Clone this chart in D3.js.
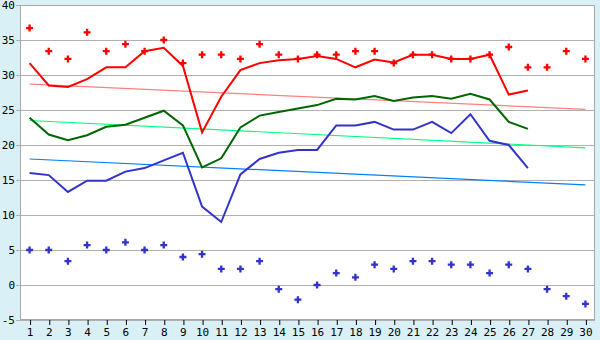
<!DOCTYPE html>
<html>
<head>
<meta charset="utf-8">
<script src="https://cdn.jsdelivr.net/npm/d3@7"></script>
<style>
  body { margin: 0; background: #d9f0f7; }
  text { font-family: "DejaVu Sans Mono", monospace; font-size: 11px; fill: #000; }
</style>
</head>
<body>
<script>
// days of the month
const days = d3.range(1, 31);

// record highs / lows (dots)
const recordHigh = [36.7, 33.4, 32.3, 36.1, 33.4, 34.4, 33.4, 35.0, 31.7, 32.9,
  32.9, 32.3, 34.4, 32.9, 32.3, 32.9, 32.9, 33.4, 33.4, 31.7,
  32.9, 32.9, 32.3, 32.3, 32.9, 34.0, 31.1, 31.1, 33.4, 32.3];
const recordLow = [5.0, 5.0, 3.4, 5.7, 5.0, 6.1, 5.0, 5.7, 4.0, 4.4,
  2.3, 2.3, 3.4, -0.6, -2.1, 0.0, 1.7, 1.1, 2.9, 2.3,
  3.4, 3.4, 2.9, 2.9, 1.7, 2.9, 2.3, -0.6, -1.6, -2.7];

// this month's max / mean / min (lines, 27 days)
const maxTemp = [31.7, 28.5, 28.3, 29.4, 31.1, 31.1, 33.4, 33.9, 31.3, 21.8,
  26.9, 30.7, 31.7, 32.1, 32.3, 32.7, 32.3, 31.1, 32.2, 31.8,
  32.9, 32.9, 32.3, 32.3, 32.9, 27.2, 27.8];
const meanTemp = [23.9, 21.5, 20.7, 21.4, 22.6, 22.9, 23.9, 24.9, 22.8, 16.8,
  18.1, 22.5, 24.2, 24.7, 25.2, 25.7, 26.6, 26.5, 27.0, 26.3,
  26.8, 27.0, 26.6, 27.3, 26.5, 23.3, 22.3];
const minTemp = [16.0, 15.7, 13.3, 14.9, 14.9, 16.2, 16.7, 17.8, 18.9, 11.2,
  9.0, 15.8, 18.0, 18.9, 19.3, 19.3, 22.8, 22.8, 23.3, 22.2,
  22.2, 23.3, 21.7, 24.4, 20.6, 20.0, 16.7];

// normal trends (start at day 1, end at day 30)
const normalMax = [28.7, 25.1];
const normalMean = [23.5, 19.6];
const normalMin = [18.0, 14.3];

const yTicks = d3.range(-5, 41, 5);

const width = 600, height = 340;
const margin = { top: 5, right: 5, bottom: 20, left: 20 };

const svg = d3.select("body").append("svg")
  .attr("width", width)
  .attr("height", height);

const x = d3.scalePoint()
  .domain(days)
  .range([margin.left, width - margin.right])
  .padding(0.5);

const y = d3.scaleLinear()
  .domain([-5, 40])
  .range([height - margin.bottom, margin.top]);

// plot background
svg.append("rect")
  .attr("x", margin.left)
  .attr("y", margin.top)
  .attr("width", width - margin.left - margin.right)
  .attr("height", height - margin.top - margin.bottom)
  .attr("fill", "#fff");

// gridlines
svg.append("g")
  .selectAll("line")
  .data(yTicks)
  .join("line")
  .attr("x1", margin.left - 4)
  .attr("x2", width - margin.right)
  .attr("y1", d => Math.round(y(d)) + 0.5)
  .attr("y2", d => Math.round(y(d)) + 0.5)
  .attr("stroke", "#b0b0b0");

// frame
svg.append("rect")
  .attr("x", margin.left + 0.5)
  .attr("y", margin.top + 0.5)
  .attr("width", width - margin.left - margin.right - 1)
  .attr("height", height - margin.top - margin.bottom - 1)
  .attr("fill", "none")
  .attr("stroke", "#a8a8a8");

// y labels
svg.append("g")
  .selectAll("text")
  .data(yTicks)
  .join("text")
  .attr("x", margin.left - 5)
  .attr("y", d => y(d))
  .attr("dy", "0.35em")
  .attr("text-anchor", "end")
  .text(d => d);

// x axis
const xAxis = d3.axisBottom(x).tickSize(5).tickPadding(3);
svg.append("g")
  .attr("transform", `translate(0,${height - margin.bottom})`)
  .call(xAxis)
  .call(g => g.select(".domain").remove())
  .call(g => g.selectAll("line").attr("stroke", "#000").attr("transform", "translate(0.5,0)"))
  .call(g => g.selectAll("text").style("font-family", "DejaVu Sans Mono").style("font-size", "11px"));

// trend lines
const trends = [
  { vals: normalMax, color: "#ff8080" },
  { vals: normalMean, color: "#00ff80" },
  { vals: normalMin, color: "#0080ff" }
];
svg.append("g")
  .selectAll("line")
  .data(trends)
  .join("line")
  .attr("x1", x(1))
  .attr("x2", x(30))
  .attr("y1", d => y(d.vals[0]))
  .attr("y2", d => y(d.vals[1]))
  .attr("stroke", d => d.color)
  .attr("stroke-width", 1.2);

// main lines
const line = d3.line()
  .x((d, i) => x(days[i]))
  .y(d => y(d));

const series = [
  { vals: maxTemp, color: "#ff0000" },
  { vals: meanTemp, color: "#006600" },
  { vals: minTemp, color: "#3333cc" }
];
svg.append("g")
  .selectAll("path")
  .data(series)
  .join("path")
  .attr("d", d => line(d.vals))
  .attr("fill", "none")
  .attr("stroke", d => d.color)
  .attr("stroke-width", 2);

// record dots
const marker = d3.symbol().type(d3.symbolCross).size(27);
const dots = [
  { vals: recordHigh, color: "#ff0000" },
  { vals: recordLow, color: "#3333cc" }
];
dots.forEach(s => {
  svg.append("g")
    .selectAll("path")
    .data(s.vals)
    .join("path")
    .attr("d", marker)
    .attr("transform", (d, i) => `translate(${x(days[i])},${y(d)})`)
    .attr("fill", s.color);
});
</script>
</body>
</html>
